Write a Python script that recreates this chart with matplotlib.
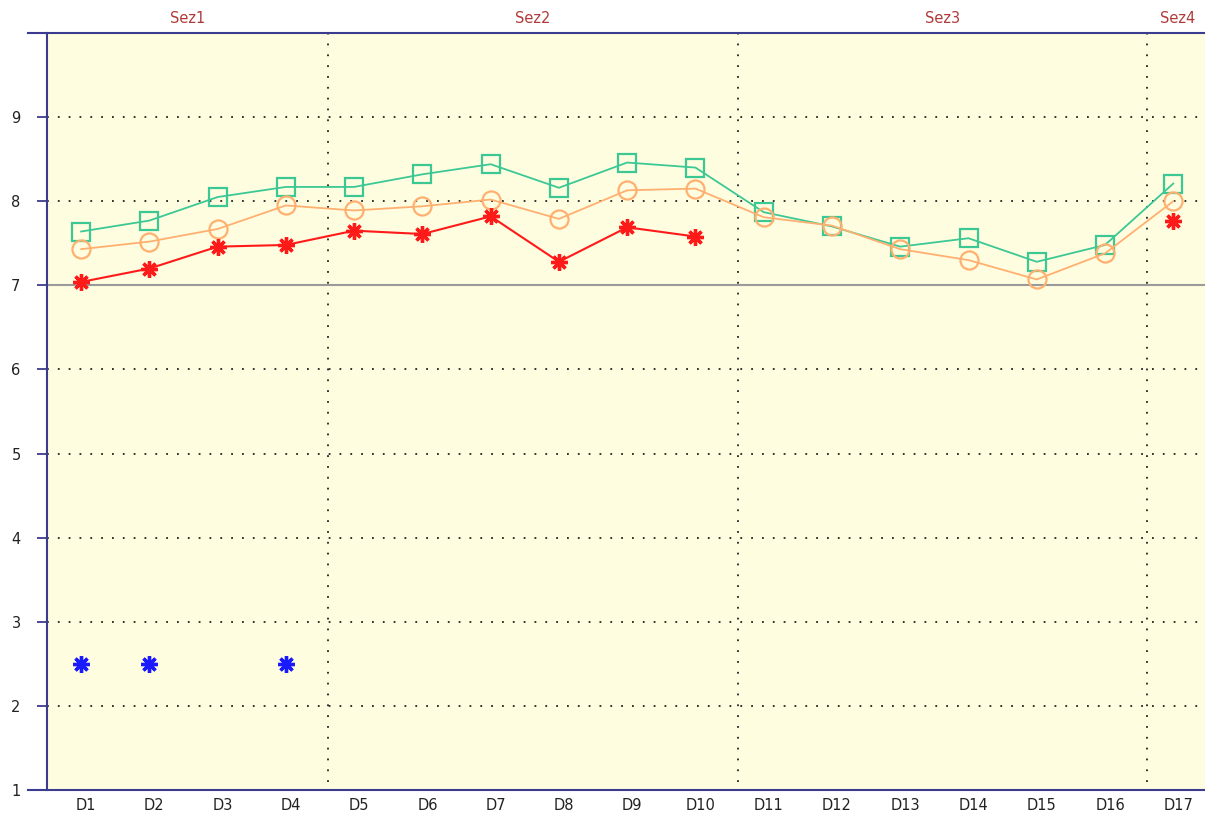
import numpy as np
import matplotlib.pyplot as plt
from matplotlib.lines import Line2D
from matplotlib.transforms import ScaledTranslation

days = ["D%d" % i for i in range(1, 18)]
sections = ["Sez1", "Sez2", "Sez3", "Sez4"]
section_edges = [0.5, 4.62, 10.62, 16.62, 17.5]

green = [7.64, 7.77, 8.05, 8.17, 8.17, 8.32, 8.44, 8.16, 8.46, 8.40,
         7.87, 7.70, 7.46, 7.56, 7.28, 7.48, 8.21]
orange = [7.43, 7.52, 7.67, 7.95, 7.89, 7.94, 8.02, 7.79, 8.13, 8.15,
          7.81, 7.71, 7.43, 7.30, 7.07, 7.38, 8.00]
red = [7.04, 7.20, 7.46, 7.48, 7.65, 7.61, 7.82, 7.28, 7.69, 7.58,
       None, None, None, None, None, None, 7.77]
blue = [2.5, 2.5, None, 2.5] + [None] * 13

def arr(v):
    return np.array([np.nan if a is None else a for a in v], dtype=float)

x = np.arange(1, 18)
navy = "#3b3b8f"

fig = plt.figure(figsize=(12.05, 8.13), dpi=100)
ax = fig.add_axes([0.039, 0.0283, 0.963, 0.9311])
ax.set_facecolor("#fffde0")
ax.set_xlim(0.5, 17.5)
ax.set_ylim(1, 10)

# grid
for yv in [2, 3, 4, 5, 6, 8, 9]:
    ax.axhline(yv, color="#222222", lw=1.3, ls=(0, (1, 5)), zorder=1)
ax.axhline(7, color="#9a9a9a", lw=1.5, zorder=1)
for xe in section_edges[1:-1]:
    ax.plot([xe, xe], [1.1, 10], color="#222222", lw=1.3, ls=(0, (1, 5)), zorder=1)

# series
ax.plot(x, arr(green), color="#3cc894", lw=1.3, marker="s", ms=13,
        mfc="none", mec="#3cc894", mew=1.6, zorder=3)
ax.plot(x, arr(orange), color="#ffb070", lw=1.3, marker="o", ms=13,
        mfc="none", mec="#ffb070", mew=1.6, zorder=3)
ax.plot(x, arr(red), color="#ff1a1a", lw=1.5, marker=(8, 2, 0), ms=12,
        mec="#ff1a1a", mew=2.4, zorder=4)
ax.plot(x, arr(blue), ls="none", marker=(8, 2, 0), ms=12,
        mec="#1a1aff", mew=2.4, zorder=4)

# axes styling
for s in ["right", "top", "bottom"]:
    ax.spines[s].set_visible(False)
ax.spines["left"].set_color(navy)
ax.spines["left"].set_linewidth(1.5)
for yy in [0, 1]:
    ax.add_line(Line2D([-0.016, 1.0], [yy, yy], transform=ax.transAxes,
                       color=navy, lw=1.5, clip_on=False))

ax.set_yticks(range(1, 11))
ax.set_yticklabels([str(i) for i in range(1, 10)] + [""])
ax.tick_params(axis="y", length=7, width=1.3, color=navy, pad=12,
               labelsize=10.5, labelcolor="#222222")
ax.set_xticks(x)
ax.set_xticklabels(days)
ax.tick_params(axis="x", length=0, pad=6, labelsize=10.5, labelcolor="#222222")
shift = ScaledTranslation(5 / 100, 0, fig.dpi_scale_trans)
for lab in ax.get_xticklabels():
    lab.set_transform(lab.get_transform() + shift)

for i, name in enumerate(sections):
    mid = (section_edges[i] + section_edges[i + 1]) / 2
    ax.text(mid, 10.08, name, ha="center", va="bottom", color="#b03a3a",
            fontsize=10.5)

fig.savefig("out.png", dpi=100)
